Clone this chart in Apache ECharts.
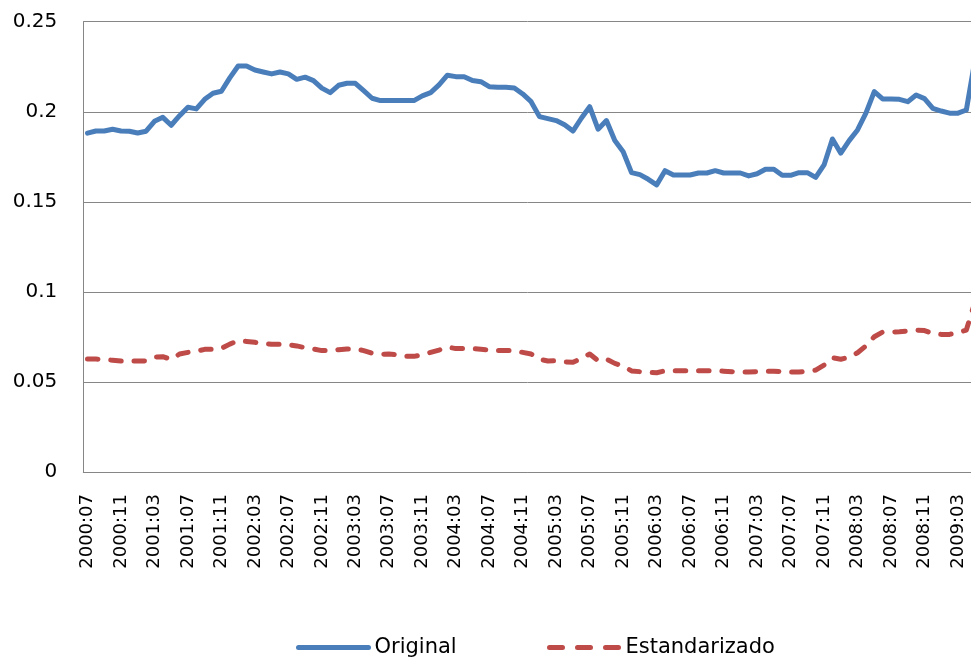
<!DOCTYPE html>
<html>
<head>
<meta charset="utf-8">
<style>
  html, body { margin: 0; padding: 0; background: #fff; }
  #chart { width: 971px; height: 660px; }
</style>
<script src="https://cdn.jsdelivr.net/npm/echarts@6/dist/echarts.min.js"></script>
</head>
<body>
<div id="chart"></div>
<script>
// Monthly periods, July 2000 to May 2009
const months = [
  '2000:07','2000:08','2000:09','2000:10','2000:11','2000:12',
  '2001:01','2001:02','2001:03','2001:04','2001:05','2001:06','2001:07','2001:08','2001:09','2001:10','2001:11','2001:12',
  '2002:01','2002:02','2002:03','2002:04','2002:05','2002:06','2002:07','2002:08','2002:09','2002:10','2002:11','2002:12',
  '2003:01','2003:02','2003:03','2003:04','2003:05','2003:06','2003:07','2003:08','2003:09','2003:10','2003:11','2003:12',
  '2004:01','2004:02','2004:03','2004:04','2004:05','2004:06','2004:07','2004:08','2004:09','2004:10','2004:11','2004:12',
  '2005:01','2005:02','2005:03','2005:04','2005:05','2005:06','2005:07','2005:08','2005:09','2005:10','2005:11','2005:12',
  '2006:01','2006:02','2006:03','2006:04','2006:05','2006:06','2006:07','2006:08','2006:09','2006:10','2006:11','2006:12',
  '2007:01','2007:02','2007:03','2007:04','2007:05','2007:06','2007:07','2007:08','2007:09','2007:10','2007:11','2007:12',
  '2008:01','2008:02','2008:03','2008:04','2008:05','2008:06','2008:07','2008:08','2008:09','2008:10','2008:11','2008:12',
  '2009:01','2009:02','2009:03','2009:04','2009:05'
];

// Original series
const original = [
  0.1881, 0.1893, 0.1893, 0.1903, 0.1893, 0.1892, 0.1882, 0.1892, 0.1947, 0.1969,
  0.1925, 0.1978, 0.2025, 0.2016, 0.2069, 0.2103, 0.2114, 0.2188, 0.2254, 0.2254,
  0.2232, 0.2221, 0.2210, 0.2221, 0.2210, 0.2180, 0.2192, 0.2173, 0.2131, 0.2106,
  0.2147, 0.2158, 0.2158, 0.2117, 0.2075, 0.2062, 0.2062, 0.2062, 0.2062, 0.2062,
  0.2088, 0.2106, 0.2149, 0.2203, 0.2195, 0.2195, 0.2173, 0.2167, 0.2139, 0.2136,
  0.2136, 0.2132, 0.2099, 0.2056, 0.1973, 0.1962, 0.1951, 0.1928, 0.1893, 0.1964,
  0.2028, 0.1903, 0.1951, 0.1840, 0.1778, 0.1662, 0.1651, 0.1625, 0.1594, 0.1673,
  0.1649, 0.1649, 0.1649, 0.1660, 0.1660, 0.1673, 0.1660, 0.1660, 0.1660, 0.1644,
  0.1656, 0.1681, 0.1681, 0.1647, 0.1647, 0.1662, 0.1662, 0.1636, 0.1705, 0.1849,
  0.1770, 0.1840, 0.1899, 0.1992, 0.2112, 0.2071, 0.2071, 0.2069, 0.2056, 0.2093,
  0.2073, 0.2019, 0.2004, 0.1992, 0.1992, 0.2010, 0.2280
];

// Standardised series
const estandarizado = [
  0.0627, 0.0627, 0.0625, 0.0620, 0.0616, 0.0616, 0.0616, 0.0617, 0.0638, 0.0640,
  0.0625, 0.0655, 0.0664, 0.0670, 0.0681, 0.0681, 0.0686, 0.0710, 0.0729, 0.0725,
  0.0720, 0.0714, 0.0709, 0.0709, 0.0707, 0.0700, 0.0690, 0.0683, 0.0674, 0.0674,
  0.0679, 0.0683, 0.0683, 0.0674, 0.0659, 0.0654, 0.0655, 0.0651, 0.0642, 0.0642,
  0.0651, 0.0664, 0.0677, 0.0694, 0.0685, 0.0685, 0.0685, 0.0681, 0.0677, 0.0674,
  0.0674, 0.0674, 0.0664, 0.0655, 0.0626, 0.0616, 0.0618, 0.0611, 0.0609, 0.0631,
  0.0655, 0.0618, 0.0627, 0.0603, 0.0588, 0.0561, 0.0557, 0.0553, 0.0551, 0.0562,
  0.0562, 0.0562, 0.0562, 0.0562, 0.0562, 0.0562, 0.0560, 0.0557, 0.0555, 0.0555,
  0.0557, 0.0560, 0.0560, 0.0557, 0.0555, 0.0555, 0.0560, 0.0566, 0.0594, 0.0634,
  0.0626, 0.0637, 0.0662, 0.0700, 0.0751, 0.0777, 0.0777, 0.0779, 0.0783, 0.0788,
  0.0785, 0.0768, 0.0764, 0.0764, 0.0774, 0.0788, 0.0940
];

const seriesNames = ['Original', 'Estandarizado'];

const FONT = 'DejaVu Sans';
const GRID_COLOR = '#868686';
const BLUE = '#4a7ebb';
const RED = '#be4b48';
const LINE_W = 5;
const DASH = [10.5, 12.8];
const LEGEND_DASH = [13, 15];

const chart = echarts.init(document.getElementById('chart'), null, { renderer: 'canvas' });

// One legend block per series so each entry sits at its own spot
function legendBlock(name, left, lineType) {
  return {
    data: [name],
    left: left,
    top: 637,
    padding: 0,
    itemWidth: 70,
    itemHeight: 14,
    itemStyle: { color: 'rgba(0,0,0,0)', borderWidth: 0, opacity: 0 },
    lineStyle: { width: LINE_W, type: lineType, cap: 'round', join: 'round' },
    textStyle: { fontFamily: FONT, fontSize: 21, color: '#000', padding: [0, 0, 0, 1] }
  };
}

chart.setOption({
  animation: false,
  backgroundColor: '#fff',
  grid: {
    left: 83.3,
    top: 21.7,
    bottom: 188,
    width: 895.6,
    outerBoundsMode: 'none',
    containLabel: false
  },
  legend: [
    legendBlock(seriesNames[0], 296, 'solid'),
    legendBlock(seriesNames[1], 547, LEGEND_DASH)
  ],
  xAxis: {
    type: 'category',
    data: months,
    boundaryGap: true,
    axisLine: { show: true, lineStyle: { color: GRID_COLOR, width: 1 } },
    axisTick: { show: false },
    axisLabel: {
      interval: 3,
      rotate: 90,
      margin: 22,
      fontFamily: FONT,
      fontSize: 18,
      color: '#000'
    },
    splitLine: { show: false }
  },
  yAxis: {
    type: 'value',
    min: 0,
    max: 0.25,
    interval: 0.05,
    axisLine: { show: true, lineStyle: { color: GRID_COLOR, width: 1 } },
    axisTick: { show: false },
    axisLabel: {
      margin: 26,
      fontFamily: FONT,
      fontSize: 20,
      color: '#000',
      formatter: v => String(Math.round(v * 100) / 100)
    },
    splitLine: { show: true, lineStyle: { color: GRID_COLOR, width: 1 } }
  },
  series: [
    {
      name: seriesNames[0],
      type: 'line',
      data: original,
      symbol: 'none',
      smooth: false,
      itemStyle: { color: BLUE },
      lineStyle: { color: BLUE, width: LINE_W, cap: 'round', join: 'round' },
      z: 3
    },
    {
      name: seriesNames[1],
      type: 'line',
      data: estandarizado,
      symbol: 'none',
      smooth: false,
      itemStyle: { color: RED },
      lineStyle: { color: RED, width: LINE_W, type: DASH, cap: 'round', join: 'round' },
      z: 2
    }
  ]
});
</script>
</body>
</html>
